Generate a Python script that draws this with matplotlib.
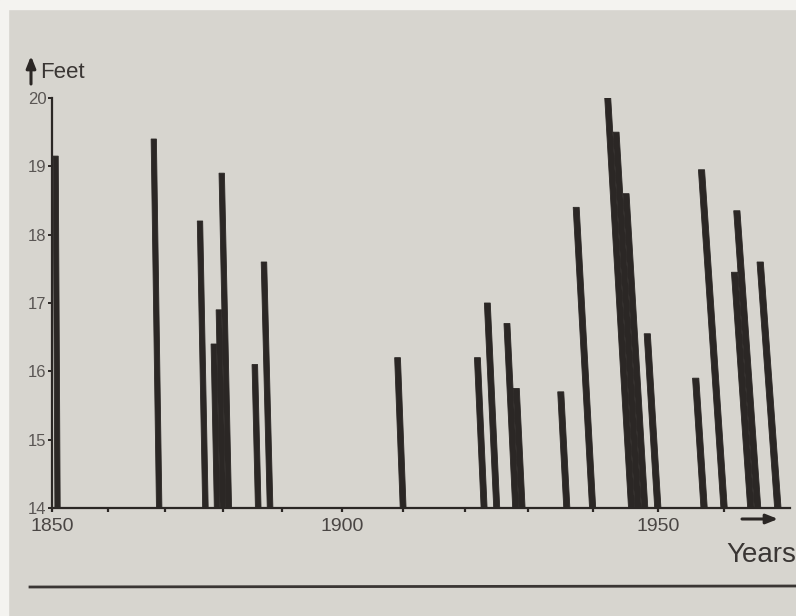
import matplotlib
matplotlib.use("Agg")
import matplotlib.pyplot as plt
import numpy as np
from matplotlib.patches import Rectangle

# flood heights (year, feet)
years = [1851, 1869, 1877, 1879, 1880, 1881, 1886, 1888, 1910, 1923, 1925,
         1928, 1929, 1936, 1940, 1946, 1947, 1948, 1950, 1957, 1960, 1964,
         1965, 1968]
heights = [19.15, 19.4, 18.2, 16.4, 16.9, 18.9, 16.1, 17.6, 16.2, 16.2, 17.0,
           16.7, 15.75, 15.7, 18.4, 20.0, 19.5, 18.6, 16.55, 15.9, 18.95, 17.45,
           18.35, 17.6]
decade_ticks = list(range(1850, 1961, 10))
year_labels = {1850: "1850", 1900: "1900", 1950: "1950"}
feet_ticks = [14, 15, 16, 17, 18, 19, 20]

BASE = 14
BAR_W = 0.95          # years
INK = "#2b2725"
PAPER = "#d7d5cf"

# the photographed page is in perspective: the year axis stretches to the
# right and the bar tops drift left (keystone).  Mimic both.
QA, QB = 5.5424, 0.00515      # px per year, px per year^2 from 1850
AX_LEFT_PX = 52
KEY = 0.0063                  # fraction of page x lost per foot of height


def fwd(x):
    d = np.asarray(x, dtype=float) - 1850
    return QA * d + QB * d * d


def inv(u):
    u = np.asarray(u, dtype=float)
    return 1850 + (-QA + np.sqrt(np.maximum(QA * QA + 4 * QB * u, 0))) / (2 * QB)


def lean(x, h):
    u = fwd(x)
    return inv(u - KEY * (u + AX_LEFT_PX) * (h - BASE))


def fig_xy(px, py):
    return px / 796, 1 - py / 616


plt.rcParams["font.family"] = ["Liberation Sans", "DejaVu Sans"]

fig = plt.figure(figsize=(7.96, 6.16), dpi=100, facecolor=PAPER)
# white page edge strips
fig.patches.append(Rectangle((0, 0.985), 1, 0.015, transform=fig.transFigure,
                             color="#f4f3f0", zorder=0))
fig.patches.append(Rectangle((0, 0), 0.01, 1, transform=fig.transFigure,
                             color="#f4f3f0", zorder=0))

ax = fig.add_axes([AX_LEFT_PX / 796, 108 / 616, 738 / 796, 410 / 616])
ax.set_facecolor("none")
ax.set_xscale("function", functions=(fwd, inv))

for yr, h in zip(years, heights):
    x0, x1 = yr - BAR_W / 2, yr + BAR_W / 2
    xs = [x0, x1, lean(x1, h), lean(x0, h)]
    ys = [BASE, BASE, h, h]
    ax.fill(xs, ys, color=INK, lw=0.6, ec=INK, zorder=3)

ax.set_xlim(1850, 1969.8)
ax.set_ylim(BASE, 20)

for side in ("top", "right"):
    ax.spines[side].set_visible(False)
for side in ("left", "bottom"):
    ax.spines[side].set_color(INK)
    ax.spines[side].set_linewidth(1.6)
    ax.spines[side].set_zorder(4)

ax.set_xticks(decade_ticks)
ax.set_xticklabels([year_labels.get(t, "") for t in decade_ticks])
ax.xaxis.set_minor_locator(matplotlib.ticker.NullLocator())
ax.set_yticks(feet_ticks)
ax.set_yticklabels([str(t) for t in feet_ticks])
ax.tick_params(axis="x", direction="out", length=3, width=1.6, color=INK,
               labelsize=14, labelcolor="#4a4644", pad=4)
ax.tick_params(axis="y", direction="out", length=3, width=1.4, color=INK,
               labelsize=12, labelcolor="#5a5654", pad=1)

# axis captions with hand-drawn style arrows
arrow = dict(arrowstyle="-|>,head_length=0.5,head_width=0.2", color=INK, lw=2.2,
             shrinkA=0, shrinkB=0)
fig.add_artist(matplotlib.patches.FancyArrowPatch(
    fig_xy(31, 84), fig_xy(31, 56), transform=fig.transFigure, **arrow,
    mutation_scale=14))
fig.text(*fig_xy(40, 72), "Feet", fontsize=16, color="#3a3634",
         ha="left", va="center")
fig.add_artist(matplotlib.patches.FancyArrowPatch(
    fig_xy(742, 519), fig_xy(778, 519), transform=fig.transFigure, **arrow,
    mutation_scale=14))
fig.text(*fig_xy(796, 555), "Years", fontsize=20, color="#3a3634",
         ha="right", va="center")

# rule under the figure
fig.add_artist(plt.Line2D([30 / 796, 1], [1 - 587 / 616, 1 - 586 / 616],
                          transform=fig.transFigure, color="#3a3634", lw=2))

fig.savefig("out.png", dpi=100, facecolor=PAPER)
